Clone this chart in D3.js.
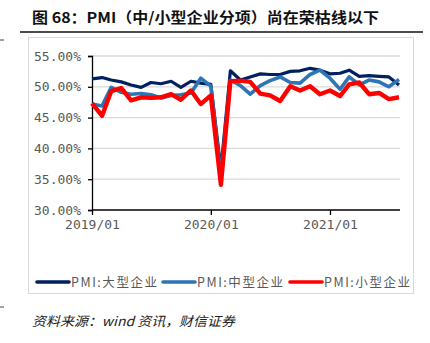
<!DOCTYPE html>
<html>
<head>
<meta charset="utf-8">
<script src="https://cdn.jsdelivr.net/npm/d3@7/dist/d3.min.js"></script>
<style>
  html, body { margin: 0; padding: 0; background: #fff; }
  svg { display: block; }
</style>
</head>
<body>
<svg id="chart" width="430" height="343"></svg>
<script>
// Monthly PMI by enterprise size, 2019/01 – 2021/08
const months = [
  "2019/01","2019/02","2019/03","2019/04","2019/05","2019/06","2019/07","2019/08",
  "2019/09","2019/10","2019/11","2019/12","2020/01","2020/02","2020/03","2020/04",
  "2020/05","2020/06","2020/07","2020/08","2020/09","2020/10","2020/11","2020/12",
  "2021/01","2021/02","2021/03","2021/04","2021/05","2021/06","2021/07","2021/08"
];
const pmiLarge = [51.3,51.5,51.1,50.8,50.3,49.9,50.7,50.5,50.9,49.9,50.9,50.6,50.4,36.6,52.6,51.1,
                  51.6,52.1,52.0,52.0,52.5,52.6,53.0,52.7,52.1,52.2,52.7,51.7,51.8,51.7,51.6,50.3];
const pmiMedium = [47.2,46.9,49.9,49.1,48.8,48.9,48.7,48.2,48.6,48.7,49.0,51.4,50.1,35.5,51.1,50.2,
                   48.8,50.2,51.0,51.6,50.7,50.6,52.0,52.7,51.4,49.6,51.6,50.3,51.1,50.8,50.0,51.2];
const pmiSmall = [47.3,45.3,49.3,49.8,47.8,48.3,48.2,48.3,48.8,47.9,49.4,47.2,48.6,34.1,50.9,51.0,
                  50.8,48.9,48.6,47.7,50.1,49.4,50.1,48.8,49.4,48.5,50.4,50.7,48.8,49.0,48.0,48.3];
const seriesNames = ["PMI:大型企业", "PMI:中型企业", "PMI:小型企业"];
const yTicks = [30, 35, 40, 45, 50, 55];
const xTickLabels = ["2019/01", "2020/01", "2021/01"];

const titleText = "图 68：PMI（中/小型企业分项）尚在荣枯线以下";
const sourceText = "资料来源：wind 资讯，财信证券";

const svg = d3.select("#chart");
const parseMonth = d3.timeParse("%Y/%m");
const dates = months.map(parseMonth);

const series = [
  { name: seriesNames[0], values: pmiLarge,  color: "#002060", width: 3.2 },
  { name: seriesNames[1], values: pmiMedium, color: "#2E75B6", width: 3.6 },
  { name: seriesNames[2], values: pmiSmall,  color: "#FF0000", width: 4.4 }
];

// Title and rule beneath it
svg.append("text")
  .attr("x", 32).attr("y", 23)
  .attr("font-family", "'Noto Sans CJK SC', sans-serif")
  .attr("font-weight", "bold")
  .attr("font-size", 14.5)
  .attr("fill", "#111")
  .attr("textLength", 347)
  .attr("lengthAdjust", "spacingAndGlyphs")
  .text(titleText);
svg.append("line")
  .attr("x1", 20).attr("x2", 423).attr("y1", 32).attr("y2", 32)
  .attr("stroke", "#111").attr("stroke-width", 1.3);

// Side marks
svg.append("line").attr("x1", 0).attr("x2", 4).attr("y1", 40).attr("y2", 40)
  .attr("stroke", "#444").attr("stroke-width", 1);
svg.append("line").attr("x1", 0).attr("x2", 4).attr("y1", 307).attr("y2", 307)
  .attr("stroke", "#444").attr("stroke-width", 1);

// Chart frame
svg.append("rect")
  .attr("x", 28.5).attr("y", 37.5).attr("width", 385).attr("height", 256)
  .attr("fill", "#fff").attr("stroke", "#d9d9d9").attr("stroke-width", 1);

// Scales
const x = d3.scaleTime().domain([dates[0], dates[dates.length - 1]]).range([92, 399]);
const y = d3.scaleLinear().domain([30, 55]).range([210, 56]);
const plotRight = 400;

// Gridlines
svg.append("g")
  .selectAll("line")
  .data(yTicks.filter(d => d > 30))
  .join("line")
  .attr("x1", 92).attr("x2", plotRight)
  .attr("y1", d => y(d)).attr("y2", d => y(d))
  .attr("stroke", "#d9d9d9").attr("stroke-width", 1.3);

const monoFont = "'DejaVu Sans Mono', 'Liberation Mono', monospace";

// Y axis
const yAxis = svg.append("g")
  .attr("transform", "translate(92,0)")
  .call(d3.axisLeft(y).tickValues(yTicks).tickSize(4).tickPadding(7)
        .tickFormat(d => d3.format(".2%")(d / 100)));
yAxis.select(".domain").attr("stroke", "#000").attr("stroke-width", 1.3);
yAxis.selectAll(".tick line").attr("stroke", "#000").attr("stroke-width", 1.3);
yAxis.selectAll("text")
  .attr("font-family", monoFont).attr("font-size", 13).attr("fill", "#595959");

// X axis
const xAxis = svg.append("g")
  .attr("transform", "translate(0,210)")
  .call(d3.axisBottom(x)
        .tickValues(xTickLabels.map(parseMonth))
        .tickSize(5).tickSizeOuter(0).tickPadding(5)
        .tickFormat(d3.timeFormat("%Y/%m")));
xAxis.select(".domain").attr("d", `M92,0H${plotRight}`)
  .attr("stroke", "#000").attr("stroke-width", 1.3);
xAxis.selectAll(".tick line").attr("stroke", "#000").attr("stroke-width", 1.3);
xAxis.selectAll("text")
  .attr("font-family", monoFont).attr("font-size", 13).attr("fill", "#595959");

// Lines
const line = d3.line()
  .x((d, i) => x(dates[i]))
  .y(d => y(d))
  .curve(d3.curveLinear);

svg.append("g")
  .selectAll("path")
  .data(series)
  .join("path")
  .attr("d", d => line(d.values))
  .attr("fill", "none")
  .attr("stroke", d => d.color)
  .attr("stroke-width", d => d.width)
  .attr("stroke-linejoin", "round")
  .attr("stroke-linecap", "butt");

// Legend
const legendX = [37, 163, 290];
const legend = svg.append("g")
  .selectAll("g")
  .data(series)
  .join("g")
  .attr("transform", (d, i) => `translate(${legendX[i]},282)`);
legend.append("line")
  .attr("x1", 0).attr("x2", 32).attr("y1", 0).attr("y2", 0)
  .attr("stroke", d => d.color).attr("stroke-width", 3.6)
  .attr("stroke-linecap", "round");
legend.append("text")
  .attr("x", 34).attr("y", 4.5)
  .attr("font-family", "'Noto Sans CJK SC', sans-serif")
  .attr("font-size", 12.5)
  .attr("fill", "#595959")
  .attr("textLength", 86)
  .attr("lengthAdjust", "spacing")
  .text(d => d.name);

// Source note
svg.append("text")
  .attr("x", 32).attr("y", 326)
  .attr("font-family", "'Noto Sans CJK SC', serif")
  .attr("font-style", "italic")
  .attr("font-size", 13)
  .attr("fill", "#222")
  .attr("textLength", 203)
  .attr("lengthAdjust", "spacingAndGlyphs")
  .text(sourceText);
</script>
</body>
</html>
